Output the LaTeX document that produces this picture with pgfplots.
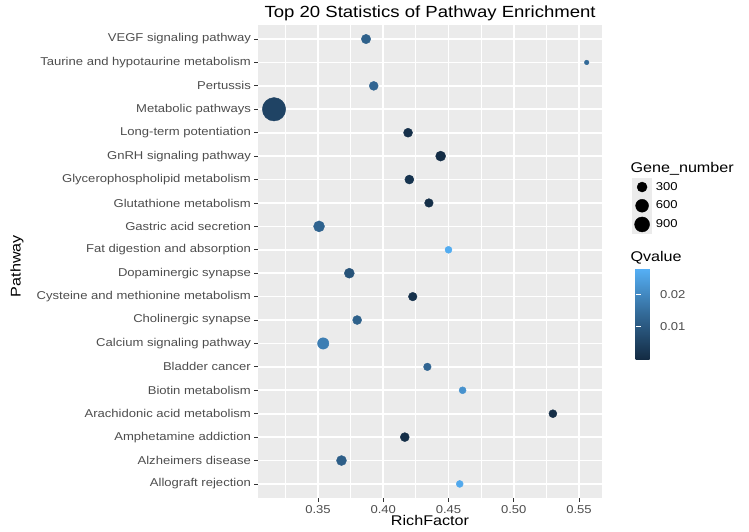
\documentclass[border=0pt]{standalone}
\usepackage{pgfplots}
\pgfplotsset{compat=1.18}
\usepackage{pgfplotstable}
\usepackage{fontspec}
\setmainfont{Liberation Sans}[FakeStretch=1.15]
\definecolor{panelbg}{RGB}{235,235,235}
\definecolor{gray30}{RGB}{77,77,77}
\definecolor{gray20}{RGB}{51,51,51}
\newcommand\tickfont{\fontsize{11.4}{13}\selectfont}
\newcommand\labfont{\fontsize{14.1}{16}\selectfont}
\newcommand\titfont{\fontsize{16.2}{18}\selectfont}

% y = category index (0 = Allograft rejection at the bottom)
\pgfplotstableread{
y  rich    gene  q
0  0.4586  86    0.0265
1  0.3680  284   0.0115
2  0.4165  203   0.0010
3  0.5300  137   0.0008
4  0.4608  86    0.0220
5  0.4338  115   0.0130
6  0.3540  421   0.0180
7  0.3800  203   0.0120
8  0.4226  175   0.0015
9  0.3740  284   0.0090
10 0.4500  86    0.0270
11 0.3508  379   0.0125
12 0.4350  175   0.0010
13 0.4200  203   0.0020
14 0.4440  284   0.0006
15 0.4190  203   0.0012
16 0.3163  2777  0.0055
17 0.3927  203   0.0130
18 0.5559  23    0.0140
19 0.3868  234   0.0120
}\pathdata

\begin{document}
\begin{tikzpicture}
\path[use as bounding box] (-258bp,-34bp) rectangle (491bp,498bp);
\begin{axis}[
  scale only axis,
  width=344bp, height=473bp,
  at={(0,0)}, anchor=south west,
  xmin=0.30402, xmax=0.56762,
  ymin=-0.6, ymax=19.6,
  axis background/.style={fill=panelbg},
  axis line style={draw=none},
  xtick={0.35,0.40,0.45,0.50,0.55},
  xticklabels={0.35,0.40,0.45,0.50,0.55},
  minor xtick={0.325,0.375,0.425,0.475,0.525},
  ytick={0,...,19},
  yticklabels={Allograft rejection, Alzheimers disease, Amphetamine addiction,
    Arachidonic acid metabolism, Biotin metabolism, Bladder cancer,
    Calcium signaling pathway, Cholinergic synapse,
    Cysteine and methionine metabolism, Dopaminergic synapse,
    Fat digestion and absorption, Gastric acid secretion,
    Glutathione metabolism, Glycerophospholipid metabolism,
    GnRH signaling pathway, Long-term potentiation, Metabolic pathways,
    Pertussis, Taurine and hypotaurine metabolism, VEGF signaling pathway},
  grid=both,
  major grid style={white, line width=1.6bp},
  minor grid style={white, line width=0.8bp},
  tick pos=left,
  tick align=outside,
  major tick length=3.6bp,
  minor tick length=0pt,
  tick style={gray20, line width=0.9bp},
  /pgf/number format/assume math mode=true,
  xticklabel style={font=\tickfont, text=gray30},
  yticklabel style={font=\tickfont, text=gray30},
  xlabel={RichFactor},
  xlabel style={font=\labfont, at={(axis description cs:0.5,0)}, anchor=center, yshift=-22bp},
  ylabel={Pathway},
  ylabel style={font=\labfont, at={(axis description cs:-0.7006,0.49)}, anchor=center},
  title={Top 20 Statistics of Pathway Enrichment},
  title style={font=\titfont, at={(axis description cs:0,1)}, anchor=base west, xshift=3bp, yshift=2bp},
  colormap={ggblue}{rgb255(0)=(19,43,67) rgb255(1)=(51,106,152) rgb255(2)=(86,177,247)},
  point meta min=0.0001, point meta max=0.028,
  colorbar,
  colorbar style={
    at={(parent axis.north east)}, anchor=north west,
    xshift=25bp, yshift=-243bp,
    scale only axis, width=26bp, height=91bp,
    axis line style={draw=none},
    scaled y ticks=false,
    ytick={0.01,0.02}, yticklabels={0.01,0.02},
    ytick pos=both, yticklabel pos=right,
    tick align=inside, major tick length=5bp,
    tick style={white, line width=0.8bp},
    yticklabel style={font=\tickfont, text=gray30, xshift=-5bp},
  },
  legend style={at={(axis description cs:1.0878,0.6776)}, anchor=north west,
    draw=none, fill=none, inner sep=0pt, row sep=0bp, column sep=4bp,
    font=\tickfont, nodes={inner sep=0pt, anchor=west}},
]
\addplot[scatter, only marks, mark=*, forget plot,
  scatter src=explicit,
  scatter/use mapped color={draw=mapped color, fill=mapped color},
  visualization depends on={2*(1+5*sqrt((\thisrow{gene}-20)/2930)) \as \rr},
  scatter/@pre marker code/.append style={/tikz/mark size=\rr bp}]
  table[x=rich, y=y, meta=q] {\pathdata};
\addlegendimage{legend image code/.code={\fill[panelbg] (0bp,-9.15bp) rectangle (19bp,9.15bp); \fill[black] (9.5bp,0bp) circle (5bp);}}
\addlegendentry{300}
\addlegendimage{legend image code/.code={\fill[panelbg] (0bp,-9.15bp) rectangle (19bp,9.15bp); \fill[black] (9.5bp,0bp) circle (6.45bp);}}
\addlegendentry{600}
\addlegendimage{legend image code/.code={\fill[panelbg] (0bp,-9.15bp) rectangle (19bp,9.15bp); \fill[black] (9.5bp,0bp) circle (7.5bp);}}
\addlegendentry{900}
\end{axis}
\node[anchor=base west, font=\labfont] at (369bp,325bp) {Gene\_number};
\node[anchor=base west, font=\labfont] at (369bp,236bp) {Qvalue};
\end{tikzpicture}
\end{document}
